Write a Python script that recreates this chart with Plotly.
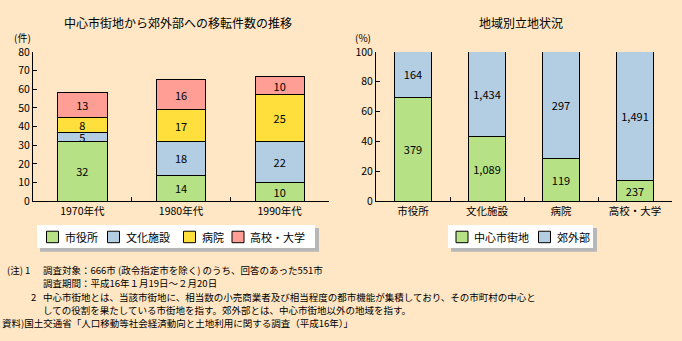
import plotly.graph_objects as go

# ---- data: relocations from city centre to suburbs, by decade ----
decades = ["1970年代", "1980年代", "1990年代"]
facility_types = ["市役所", "文化施設", "病院", "高校・大学"]
city_hall = [32, 14, 10]
cultural = [5, 18, 22]
hospital = [8, 17, 25]
school = [13, 16, 10]
move_series = [city_hall, cultural, hospital, school]

# ---- data: location of facilities (counts) ----
site_categories = ["市役所", "文化施設", "病院", "高校・大学"]
area_names = ["中心市街地", "郊外部"]
central_counts = [379, 1089, 119, 237]
suburb_counts = [164, 1434, 297, 1491]

COLORS = ["#B6E185", "#B3CDE3", "#FFDF3C", "#FF9E94"]
BG = "#FFE6C4"
FONT = "Noto Sans CJK JP"
W, H = 682, 341


def px(x):
    return x / W


def py(y):
    return 1 - y / H


fig = go.Figure()

for name, vals, col in zip(facility_types, move_series, COLORS):
    fig.add_trace(go.Bar(
        x=decades, y=vals, name=name, xaxis="x", yaxis="y",
        marker=dict(color=col, line=dict(color="black", width=1)),
        text=[str(v) for v in vals], textposition="inside",
        insidetextanchor="middle", textangle=0,
        insidetextfont=dict(color="black", size=11, family=FONT),
        width=0.5, showlegend=False, hoverinfo="skip",
    ))

totals = [c + s for c, s in zip(central_counts, suburb_counts)]
central_pct = [c / t * 100 for c, t in zip(central_counts, totals)]
suburb_pct = [s / t * 100 for s, t in zip(suburb_counts, totals)]

for name, pct, cnt, col in zip(area_names, [central_pct, suburb_pct],
                               [central_counts, suburb_counts], COLORS[:2]):
    fig.add_trace(go.Bar(
        x=site_categories, y=pct, name=name, xaxis="x2", yaxis="y2",
        marker=dict(color=col, line=dict(color="black", width=1)),
        text=[f"{v:,}" for v in cnt], textposition="inside",
        insidetextanchor="middle", textangle=0,
        insidetextfont=dict(color="black", size=11, family=FONT),
        width=0.5, showlegend=False, hoverinfo="skip",
    ))

ydom = [py(202), py(46)]
common_x = dict(type="category", showline=True, linecolor="black", linewidth=1,
                ticks="inside", ticklen=4, tickcolor="black", tickson="boundaries",
                showgrid=False, zeroline=False, fixedrange=True,
                tickfont=dict(size=10.5, color="black", family=FONT))
common_y = dict(showline=True, linecolor="black", linewidth=1,
                ticks="inside", ticklen=4, tickcolor="black",
                showgrid=False, zeroline=False, fixedrange=True,
                tickfont=dict(size=10.5, color="black", family=FONT))

fig.update_layout(
    width=W, height=H,
    margin=dict(l=0, r=0, t=0, b=0),
    paper_bgcolor=BG, plot_bgcolor=BG,
    barmode="stack", bargap=0.5,
    font=dict(family=FONT, color="black"),
    uniformtext=dict(minsize=11, mode="show"),
    xaxis=dict(domain=[px(33), px(329)], anchor="y", range=[-0.5, 2.5], **common_x),
    yaxis=dict(domain=ydom, anchor="x", range=[0, 80], tickvals=list(range(0, 81, 10)), **common_y),
    xaxis2=dict(domain=[px(376), px(672)], anchor="y2", range=[-0.5, 3.5], **common_x),
    yaxis2=dict(domain=ydom, anchor="x2", range=[0, 100], tickvals=list(range(0, 101, 20)), **common_y),
)

annotations = []
shapes = []


def text(x, y, s, size, anchor="left"):
    annotations.append(dict(x=px(x), y=py(y), xref="paper", yref="paper", text=s,
                            showarrow=False, xanchor=anchor, yanchor="middle",
                            font=dict(size=size, color="black", family=FONT)))


# panel titles and axis units
text(178, 15, "中心市街地から郊外部への移転件数の推移", 12, "center")
text(521, 15, "地域別立地状況", 12, "center")
text(22, 31, "(件)", 10, "center")
text(363, 31, "(%)", 10, "center")


# legends drawn as boxes with a drop shadow
def legend_box(x0, x1, names, colors, swatch_x):
    y0, y1 = 227, 251
    shapes.append(dict(type="rect", xref="paper", yref="paper", layer="above",
                       x0=px(x0 + 3), x1=px(x1 + 4), y0=py(y1 + 4), y1=py(y0 + 3),
                       fillcolor="#B7B7B7", line=dict(width=0)))
    shapes.append(dict(type="rect", xref="paper", yref="paper", layer="above",
                       x0=px(x0), x1=px(x1), y0=py(y1), y1=py(y0),
                       fillcolor="white", line=dict(width=0)))
    for name, col, sx in zip(names, colors, swatch_x):
        shapes.append(dict(type="rect", xref="paper", yref="paper", layer="above",
                           x0=px(sx), x1=px(sx + 12), y0=py(245.5), y1=py(233.5),
                           fillcolor=col, line=dict(color="black", width=1)))
        text(sx + 16, 239.5, name, 11)


legend_box(37, 315, facility_types, COLORS, [46.5, 107.5, 183.5, 232])
legend_box(448, 593, area_names, COLORS[:2], [456, 538.5])

# notes and source
NOTE = 9.5
text(5, 274, "(注) 1", NOTE)
text(40.5, 274, "調査対象：666市 (政令指定市を除く) のうち、回答のあった551市", NOTE)
text(40.5, 288, "調査期間：平成16年１月19日～２月20日", NOTE)
text(29, 302, "2", NOTE)
text(40.5, 302, "中心市街地とは、当該市街地に、相当数の小売商業者及び相当程度の都市機能が集積しており、その市町村の中心と", NOTE)
text(40.5, 316, "しての役割を果たしている市街地を指す。郊外部とは、中心市街地以外の地域を指す。", NOTE)
text(0, 330, "資料)国土交通省「人口移動等社会経済動向と土地利用に関する調査（平成16年）」", NOTE)

fig.update_layout(annotations=annotations, shapes=shapes)

fig.write_html("out.html")
